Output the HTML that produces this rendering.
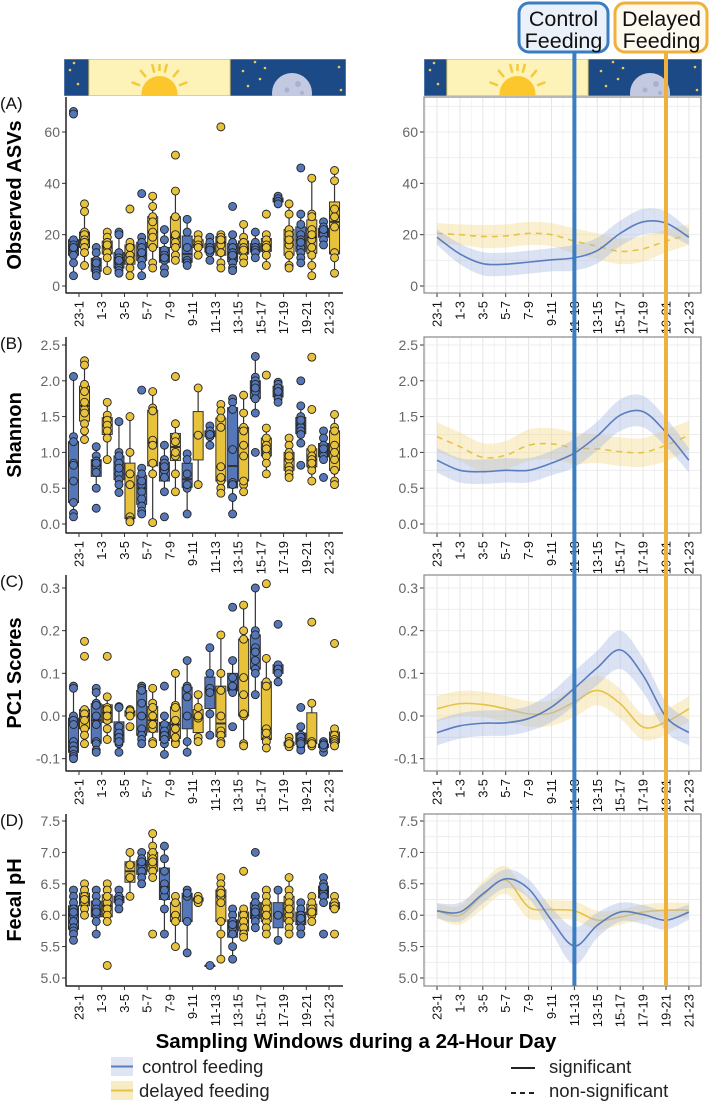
<!DOCTYPE html>
<html><head><meta charset="utf-8">
<style>
html,body{margin:0;padding:0;background:#fff;}
svg{display:block;font-family:"Liberation Sans",Arial,sans-serif;}
</style></head>
<body>
<svg id="chart" width="712" height="1102" viewBox="0 0 712 1102" xmlns="http://www.w3.org/2000/svg">
<defs>
<clipPath id="clipL"><rect x="64" y="59" width="282" height="37"/></clipPath>
<clipPath id="clipR"><rect x="424" y="59" width="278" height="37"/></clipPath>
</defs>
<g id="banners"></g>
<g id="panels"></g>
<g id="feedlines"></g>
<g>
<rect x="519" y="3" width="89" height="49" rx="10" fill="#eaf1fa" stroke="#3a7dc0" stroke-width="3"/>
<text x="563.5" y="26" text-anchor="middle" font-size="21.5" fill="#111">Control</text>
<text x="563.5" y="48" text-anchor="middle" font-size="21.5" fill="#111">Feeding</text>
</g>
<g>
<rect x="615" y="3" width="92" height="49" rx="10" fill="#fffaf0" stroke="#f0b03c" stroke-width="3"/>
<text x="661.5" y="26" text-anchor="middle" font-size="21.5" fill="#111">Delayed</text>
<text x="661.5" y="48" text-anchor="middle" font-size="21.5" fill="#111">Feeding</text>
</g>
<text x="356" y="1048" text-anchor="middle" font-size="20.5" font-weight="bold" fill="#000">Sampling Windows during a 24-Hour Day</text>
<g>
<rect x="111" y="1057" width="22" height="19" fill="#dfe5f3"/>
<line x1="111" y1="1066.5" x2="133" y2="1066.5" stroke="#5a7dbf" stroke-width="2"/>
<text x="142" y="1073" font-size="18.5" fill="#222">control feeding</text>
</g>
<g>
<rect x="111" y="1081" width="22" height="19" fill="#f8ecc4"/>
<line x1="111" y1="1090.5" x2="133" y2="1090.5" stroke="#e6c247" stroke-width="2"/>
<text x="139" y="1097" font-size="18.5" fill="#222">delayed feeding</text>
</g>
<g>
<line x1="511" y1="1068" x2="535" y2="1068" stroke="#222" stroke-width="2"/>
<text x="549" y="1073" font-size="18.5" fill="#222">significant</text>
</g>
<g>
<line x1="511" y1="1093" x2="535" y2="1093" stroke="#222" stroke-width="2" stroke-dasharray="5,4"/>
<text x="549" y="1097" font-size="18.5" fill="#222">non-significant</text>
</g>
</svg>
<script>
const categories = ["23-1","1-3","3-5","5-7","7-9","9-11","11-13","13-15","15-17","17-19","19-21","21-23"];

// Panel A: Observed ASVs points
const asvControl = [[68,67,18,16,14,12,9,4,15],[15,13,10,8,6,5,4,9],[21,20,13,11,9,7,6,5,10],[36,19,17,15,12,10,8,4,13],[22,18,14,12,10,7,5,11],[26,21,15,10,9,8],[19,17,15,13,10,14],[31,20,17,15,13,11,9,7,6,12],[21,17,15,14,13,11],[35,34,33,32],[46,28,24,20,18,15,13,11,9,17],[25,23,21,20,18,16,22]];
const asvDelayed = [[32,29,21,20,18,17,15,13,8],[21,19,17,15,13,11,6,16],[30,17,12,7,4,10,15],[35,31,27,25,21,15,9,7,19],[51,37,27,19,17,15,12,10,20],[20,18,16,15,12],[62,20,19,16,13,9,7,18],[24,19,17,15,13,11,9,14],[28,20,18,16,14,12,8,15],[32,28,22,20,16,12,8,7,18],[42,28,27,22,18,15,12,8,4,20],[45,41,27,23,13,11,5,30]];
// Panel B: Shannon points
const shanControl = [[2.06,1.22,1.15,0.85,0.6,0.3,0.15,0.1,0.82],[1.08,0.95,0.88,0.8,0.72,0.5,0.22,0.85],[1.43,1.0,0.95,0.85,0.7,0.62,0.55,0.44,0.78],[1.87,0.78,0.7,0.55,0.45,0.35,0.25,0.18,0.14,0.6],[1.1,0.9,0.85,0.75,0.65,0.45,0.1,0.8],[0.98,0.9,0.7,0.5,0.14,0.55],[1.37,1.3,1.22,1.1,1.25],[1.75,1.7,1.6,1.04,0.58,0.37,0.14,0.55],[2.34,2.05,2.0,1.95,1.85,1.75,1.55,1.0,1.9],[1.98,1.95,1.9,1.8,1.75,1.7,1.85],[2.0,1.65,1.5,1.4,1.35,1.3,1.25,1.13,0.82,1.45],[1.3,1.2,1.1,1.0,0.95,0.9,0.65,1.05]];
const shanDelayed = [[2.28,2.22,1.95,1.85,1.6,1.55,1.4,1.3,1.18,1.7],[1.7,1.52,1.45,1.38,1.3,1.2,0.9],[1.5,1.0,0.55,0.1,0.05,0.03,0.7],[1.85,1.62,1.58,1.17,1.1,0.85,0.7,0.02],[2.06,1.4,1.22,1.15,0.95,0.7,0.45,1.0],[1.9,0.55,1.24],[1.67,1.58,1.48,0.8,0.6,0.5,0.43,1.35,0.65],[1.8,1.55,1.35,1.3,0.95,0.55,0.45,0.6,1.1],[2.08,1.34,1.2,1.1,1.0,0.95,0.85,0.7,1.05],[1.2,1.1,1.0,0.9,0.8,0.75,0.7,0.65,0.95],[2.33,1.6,1.05,0.95,0.9,0.8,0.75,0.6,0.85],[1.53,1.35,1.3,1.1,0.9,0.75,0.6,0.55,1.0]];
// Panel C: PC1 points
const pcControl = [[0.07,0.065,0.0,-0.01,-0.06,-0.07,-0.08,-0.09,-0.095,-0.1,-0.02],[0.065,0.055,0.03,0.025,0.0,-0.06,-0.065,-0.08,-0.085,-0.02],[0.022,0.02,-0.025,-0.04,-0.05,-0.065,-0.085,-0.06],[0.07,0.065,0.06,0.03,-0.03,-0.045,-0.055,-0.065,0.0],[0.07,0.0,-0.02,-0.035,-0.045,-0.065,-0.09,-0.055],[0.13,0.07,0.065,0.045,-0.06,-0.085,0.0],[0.16,0.1,0.065,0.005,-0.045,0.055],[0.255,0.13,0.09,0.06,0.065,0.055,-0.025,0.07],[0.3,0.2,0.19,0.13,0.11,0.1,0.05,0.16,0.15],[0.215,0.12,0.11,0.1,0.08],[0.02,-0.025,-0.045,-0.05,-0.06,-0.07,-0.08,-0.065],[-0.06,-0.065,-0.07,-0.085,-0.075,-0.068]];
const pcDelayed = [[0.175,0.14,0.0,0.015,0.005,-0.01,-0.03,-0.045,-0.065],[0.14,0.045,0.02,0.015,-0.01,-0.03,-0.055,0.0],[0.015,0.01,0.012,-0.025,0.0],[0.065,0.03,0.02,0.0,-0.03,-0.06,-0.065,-0.02],[0.1,0.025,0.02,-0.01,-0.03,-0.06,-0.065,-0.05],[0.05,0.02,-0.005,-0.05,-0.06,0.0],[0.19,0.1,0.06,0.0,-0.035,-0.045,-0.06,-0.065],[0.26,0.2,0.18,0.09,0.0,-0.065,-0.07,0.05,0.005],[0.31,0.135,0.08,0.07,-0.03,-0.055,-0.06,-0.075,-0.04],[-0.05,-0.06,-0.065,-0.07,-0.072,-0.065],[0.22,0.03,-0.06,-0.065,-0.07,-0.065],[0.17,-0.03,-0.045,-0.055,-0.06,-0.065,-0.07]];
// Panel D: pH points
const phControl = [[6.4,6.3,6.2,6.1,6.0,5.9,5.8,5.75,5.7,5.6,6.05],[6.4,6.3,6.2,6.1,6.0,5.9,5.7,6.05],[6.4,6.3,6.25,6.2,6.1],[7.0,6.9,6.8,6.7,6.6,6.5,6.85],[7.1,6.9,6.7,6.5,6.3,6.1,5.7,6.4],[6.4,6.3,5.9,5.4,6.35],[5.2],[6.1,6.0,5.9,5.8,5.7,5.5,5.3,5.85],[7.0,6.3,6.2,6.1,6.0,5.95,5.9,5.8,6.05],[6.4,6.0,5.6],[6.2,6.1,6.0,5.9,5.8,5.7,5.95],[6.6,6.5,6.4,6.35,6.3,6.2,5.7,6.45]];
const phDelayed = [[6.5,6.4,6.3,6.2,6.1,6.0,6.25],[6.5,6.4,6.2,6.1,6.0,5.9,5.2,6.3],[7.0,6.8,6.6,6.3],[7.3,7.1,7.0,6.9,6.8,6.7,6.6,5.7,6.85],[6.3,6.2,6.0,5.9,5.5],[6.3,6.2,6.25],[6.6,6.5,6.4,6.3,6.2,5.9,5.7,5.3,6.35],[6.7,6.1,6.0,5.9,5.8,5.7,5.65],[6.4,6.3,6.2,6.1,6.0,5.9,5.8,5.7,6.0],[6.6,6.4,6.3,6.2,6.0,5.9,5.8,5.7,6.1],[6.3,6.2,6.1,6.0,5.9,6.05],[6.3,6.2,6.15,5.7,6.1]];

// Smoothed trend values per category
const asvFitControl = [19,12.5,8.7,8.5,9.3,10.2,11,13.8,20.5,25,24.5,19];
const asvFitDelayed = [20.5,20,19.3,19.5,20.5,20,17.5,15.5,13.5,14.5,17.5,20];
const asvSeControl = [3,4,4.5,4.5,4.5,4.5,5,5,5,5,4.5,3];
const asvSeDelayed = [4,4,4.5,4.5,4.5,4.5,5,5,5,5,4.5,4];
const shanFitControl = [0.89,0.75,0.73,0.75,0.75,0.85,0.99,1.23,1.52,1.57,1.28,0.89];
const shanFitDelayed = [1.22,1.08,0.93,0.96,1.1,1.12,1.06,1.05,1.01,1.0,1.1,1.24];
const shanSeControl = [0.17,0.17,0.17,0.17,0.17,0.17,0.2,0.2,0.22,0.22,0.2,0.17];
const shanSeDelayed = [0.2,0.2,0.2,0.2,0.22,0.22,0.22,0.2,0.2,0.2,0.22,0.2];
const pcFitControl = [-0.039,-0.023,-0.017,-0.016,-0.006,0.021,0.065,0.113,0.155,0.095,-0.002,-0.039];
const pcFitDelayed = [0.017,0.029,0.027,0.017,0.005,0.007,0.033,0.06,0.029,-0.026,-0.014,0.017];
const pcSeControl = [0.03,0.03,0.03,0.03,0.03,0.035,0.04,0.04,0.045,0.04,0.035,0.03];
const pcSeDelayed = [0.03,0.03,0.03,0.03,0.03,0.03,0.035,0.035,0.035,0.03,0.03,0.03];
const phFitControl = [6.07,6.05,6.34,6.58,6.42,5.92,5.51,5.84,6.05,6.01,5.92,6.05];
const phFitDelayed = [6.07,6.0,6.32,6.56,6.13,6.09,6.07,5.92,5.97,6.05,6.08,6.08];
const phSeControl = [0.12,0.15,0.15,0.15,0.15,0.2,0.3,0.2,0.15,0.15,0.15,0.12];
const phSeDelayed = [0.12,0.15,0.22,0.22,0.18,0.15,0.15,0.15,0.12,0.12,0.12,0.12];

const yTicksA = [0,20,40,60];
const yTicksB = [0.0,0.5,1.0,1.5,2.0,2.5];
const yTicksC = [-0.1,0.0,0.1,0.2,0.3];
const yTicksD = [5.0,5.5,6.0,6.5,7.0,7.5];
const tickFmtA = ["0","20","40","60"];
const tickFmtB = ["0.0","0.5","1.0","1.5","2.0","2.5"];
const tickFmtC = ["-0.1","0.0","0.1","0.2","0.3"];
const tickFmtD = ["5.0","5.5","6.0","6.5","7.0","7.5"];
const feedControlIndex = 6;
const feedDelayedIndex = 10;

const NS = "http://www.w3.org/2000/svg";
function mk(tag, attrs, parent){ const e=document.createElementNS(NS,tag); for(const k in attrs) e.setAttribute(k,attrs[k]); if(parent) parent.appendChild(e); return e; }
const BLUE="#5577b8", YEL="#e8c23b", LBLUE="#5a7dbf", LYEL="#e6c247";

const panels = [
 {id:"a", label:"(A)", title:"Observed ASVs", top:97, bottom:293, v0:0, p0:286, v1:60, p1:132, ticks:yTicksA, fmt:tickFmtA, ctl:asvControl, del:asvDelayed, fc:asvFitControl, fd:asvFitDelayed, sc:asvSeControl, sd:asvSeDelayed, dashD:true},
 {id:"b", label:"(B)", title:"Shannon", top:337, bottom:533, v0:0, p0:524, v1:2.5, p1:345, ticks:yTicksB, fmt:tickFmtB, ctl:shanControl, del:shanDelayed, fc:shanFitControl, fd:shanFitDelayed, sc:shanSeControl, sd:shanSeDelayed, dashD:true},
 {id:"c", label:"(C)", title:"PC1 Scores", top:575, bottom:771, v0:0, p0:716, v1:0.3, p1:588, ticks:yTicksC, fmt:tickFmtC, ctl:pcControl, del:pcDelayed, fc:pcFitControl, fd:pcFitDelayed, sc:pcSeControl, sd:pcSeDelayed, dashD:false},
 {id:"d", label:"(D)", title:"Fecal pH", top:814, bottom:986, v0:5, p0:978, v1:7.5, p1:821, ticks:yTicksD, fmt:tickFmtD, ctl:phControl, del:phDelayed, fc:phFitControl, fd:phFitDelayed, sc:phSeControl, sd:phSeDelayed, dashD:false}
];
const xL = i => 79 + i*22.73;
const xR = i => 437 + i*22.9;

function quant(a,q){ const s=[...a].sort((x,y)=>x-y); const p=(s.length-1)*q; const lo=Math.floor(p), hi=Math.ceil(p); return s[lo]+(s[hi]-s[lo])*(p-lo); }
function catmull(pts){ let d=`M${pts[0][0]},${pts[0][1]}`; for(let i=0;i<pts.length-1;i++){ const p0=pts[Math.max(i-1,0)],p1=pts[i],p2=pts[i+1],p3=pts[Math.min(i+2,pts.length-1)]; d+=` C${p1[0]+(p2[0]-p0[0])/6},${p1[1]+(p2[1]-p0[1])/6} ${p2[0]-(p3[0]-p1[0])/6},${p2[1]-(p3[1]-p1[1])/6} ${p2[0]},${p2[1]}`; } return d; }
function catmullSeg(pts){ return catmull(pts).replace(/^M[^C]*/,''); }

// Banners
const bg = document.getElementById("banners");
[[64,346,89,230,"banner-left","clipL"],[424,702,447,588,"banner-right","clipR"]].forEach(([x0,x1,d0,d1,name,clip])=>{
  const g=mk("g",{"clip-path":`url(#${clip})`},bg);
  
  
  mk("rect",{x:x0,y:59,width:x1-x0,height:37,fill:"#1b4a86",stroke:"#7fa0cc","stroke-width":1},g);
  mk("rect",{x:d0,y:59.5,width:d1-d0,height:36,fill:"#fdf3b8",stroke:"#f0d257","stroke-width":1},g);
  const sx=(d0+d1)/2;
  [-1.2,-0.7,-0.25,0.25,0.7,1.2].forEach(t=>{ const ang=-Math.PI/2+t; mk("line",{x1:sx+Math.cos(ang)*22,y1:93+Math.sin(ang)*22,x2:sx+Math.cos(ang)*29,y2:93+Math.sin(ang)*29,stroke:"#f6c93a","stroke-width":2.5,"stroke-linecap":"round"},g); });
  mk("line",{x1:sx,y1:71,x2:sx,y2:64,stroke:"#f6c93a","stroke-width":2.5},g);
  mk("circle",{cx:sx,cy:94,r:18,fill:"#fcc62d"},g);
  const mx=d1+62;
  mk("circle",{cx:mx,cy:93,r:20,fill:"#c4c9e2"},g);
  mk("circle",{cx:mx+6,cy:84,r:3,fill:"#aab0cf"},g);
  mk("circle",{cx:mx-5,cy:90,r:2.5,fill:"#aab0cf"},g);
  mk("circle",{cx:mx+10,cy:93,r:2,fill:"#aab0cf"},g);
  [[x0+6,70],[x0+14,84],[x0+10,63],[d1+13,71],[d1+25,62],[d1+30,79],[d1+18,86],[x1-7,67],[x1-5,90],[d1+35,68]].forEach(([a,b])=>mk("circle",{cx:a,cy:b,r:1.3,fill:"#f2c94c"},g));
});

const pg=document.getElementById("panels");
panels.forEach(P=>{
  const y = v => P.p0 + (v-P.v0)*(P.p1-P.p0)/(P.v1-P.v0);
  const gl=mk("g",{},pg);
  
  
  const lab=mk("text",{x:0,y:P.top+12,"font-size":17,fill:"#111"},gl); lab.textContent=P.label;
  
  
  const cy=(P.top+P.bottom)/2;
  const yt=mk("text",{x:0,y:0,"font-size":20,"font-weight":"bold",fill:"#000","text-anchor":"middle",transform:`translate(21,${cy}) rotate(-90)`},gl); yt.textContent=P.title;
  
  
  P.ticks.forEach((t,i)=>{
    mk("line",{x1:62,x2:66,y1:y(t),y2:y(t),stroke:"#333","stroke-width":1},gl);
    const tx=mk("text",{x:60,y:y(t)+5,"font-size":14,fill:"#666","text-anchor":"end"},gl); tx.textContent=P.fmt[i];
    
    
  });
  mk("line",{x1:66,x2:66,y1:P.top,y2:P.bottom,stroke:"#222","stroke-width":1.5},gl);
  mk("line",{x1:65.5,x2:343,y1:P.bottom,y2:P.bottom,stroke:"#222","stroke-width":1.5},gl);
  categories.forEach((c,i)=>{
    mk("line",{x1:xL(i),x2:xL(i),y1:P.bottom,y2:P.bottom+4,stroke:"#333"},gl);
    const t=mk("text",{x:0,y:0,"font-size":13,fill:"#111","text-anchor":"end",transform:`translate(${xL(i)+4.5},${P.bottom+8}) rotate(-90)`},gl); t.textContent=c;
    
    
  });
  [[P.ctl,BLUE,-5.5,"control"],[P.del,YEL,5.5,"delayed"]].forEach(([arr,col,off,nm])=>{
    arr.forEach((pts,i)=>{
      const cx=xL(i)+off;
      const q1=quant(pts,0.25),md=quant(pts,0.5),q3=quant(pts,0.75),iqr=q3-q1;
      const inl=pts.filter(v=>v>=q1-1.5*iqr && v<=q3+1.5*iqr);
      const lo=Math.min(...inl), hi=Math.max(...inl);
      const bx=mk("g",{},gl);
      
      
      mk("line",{x1:cx,x2:cx,y1:y(hi),y2:y(lo),stroke:"#333","stroke-width":1.2},bx);
      mk("rect",{x:cx-5,y:y(q3),width:10,height:Math.max(y(q1)-y(q3),1),fill:col,stroke:"#333","stroke-width":1},bx);
      mk("line",{x1:cx-5,x2:cx+5,y1:y(md),y2:y(md),stroke:"#333","stroke-width":2},bx);
      pts.forEach(v=>{ const c=mk("circle",{cx:cx,cy:y(v),r:4,fill:col,stroke:"#222","stroke-width":0.9},bx);
        
         });
    });
  });
  const gr=mk("g",{},pg);
  
  
  for(let i=-0.5;i<=11.5;i+=0.5){ const x=xR(i); if(x<424||x>701) continue; mk("line",{x1:x,x2:x,y1:P.top,y2:P.bottom,stroke:Number.isInteger(i)?"#e6e6e6":"#f2f2f2","stroke-width":Number.isInteger(i)?1:0.8},gr); }
  const step=P.ticks[1]-P.ticks[0];
  for(let v=P.ticks[0]-step/2; v<=P.ticks[P.ticks.length-1]+step; v+=step/2){ const yy=y(v); if(yy<P.top||yy>P.bottom) continue; mk("line",{x1:424,x2:701,y1:yy,y2:yy,stroke:"#ececec","stroke-width":0.9},gr); }
  P.ticks.forEach((t,i)=>{
    mk("line",{x1:420,x2:424,y1:y(t),y2:y(t),stroke:"#333"},gr);
    const tx=mk("text",{x:418,y:y(t)+5,"font-size":14,fill:"#666","text-anchor":"end"},gr); tx.textContent=P.fmt[i];
    
    
  });
  categories.forEach((c,i)=>{
    mk("line",{x1:xR(i),x2:xR(i),y1:P.bottom,y2:P.bottom+4,stroke:"#333"},gr);
    const t=mk("text",{x:0,y:0,"font-size":13,fill:"#111","text-anchor":"end",transform:`translate(${xR(i)+4.5},${P.bottom+8}) rotate(-90)`},gr); t.textContent=c;
    
    
  });
  [[P.fd,P.sd,LYEL,"#f3dc8c",P.dashD,"delayed"],[P.fc,P.sc,LBLUE,"#a9b9e2",false,"control"]].forEach(([fit,se,col,band,dash,nm])=>{
    const up=fit.map((v,i)=>[xR(i),y(v+se[i])]), dn=fit.map((v,i)=>[xR(i),y(v-se[i])]).reverse();
    const b=mk("path",{d:catmull(up)+" L"+dn[0][0]+","+dn[0][1]+catmullSeg(dn)+" Z",fill:band,"fill-opacity":0.42},gr);
    
    
    const ln=mk("path",{d:catmull(fit.map((v,i)=>[xR(i),y(v)])),fill:"none",stroke:col,"stroke-width":1.6},gr);
    if(dash) ln.setAttribute("stroke-dasharray","6,5");
    
    
  });
  mk("rect",{x:424,y:P.top,width:277,height:P.bottom-P.top,fill:"none",stroke:"#888","stroke-width":1.2},gr);
});
const fl=document.getElementById("feedlines");
const lc=mk("line",{x1:xR(feedControlIndex),x2:xR(feedControlIndex),y1:52,y2:986,stroke:"#3a7dc0","stroke-width":4},fl);


const ld=mk("line",{x1:xR(feedDelayedIndex),x2:xR(feedDelayedIndex),y1:52,y2:986,stroke:"#f0b03c","stroke-width":4},fl);


</script>
</body></html>
